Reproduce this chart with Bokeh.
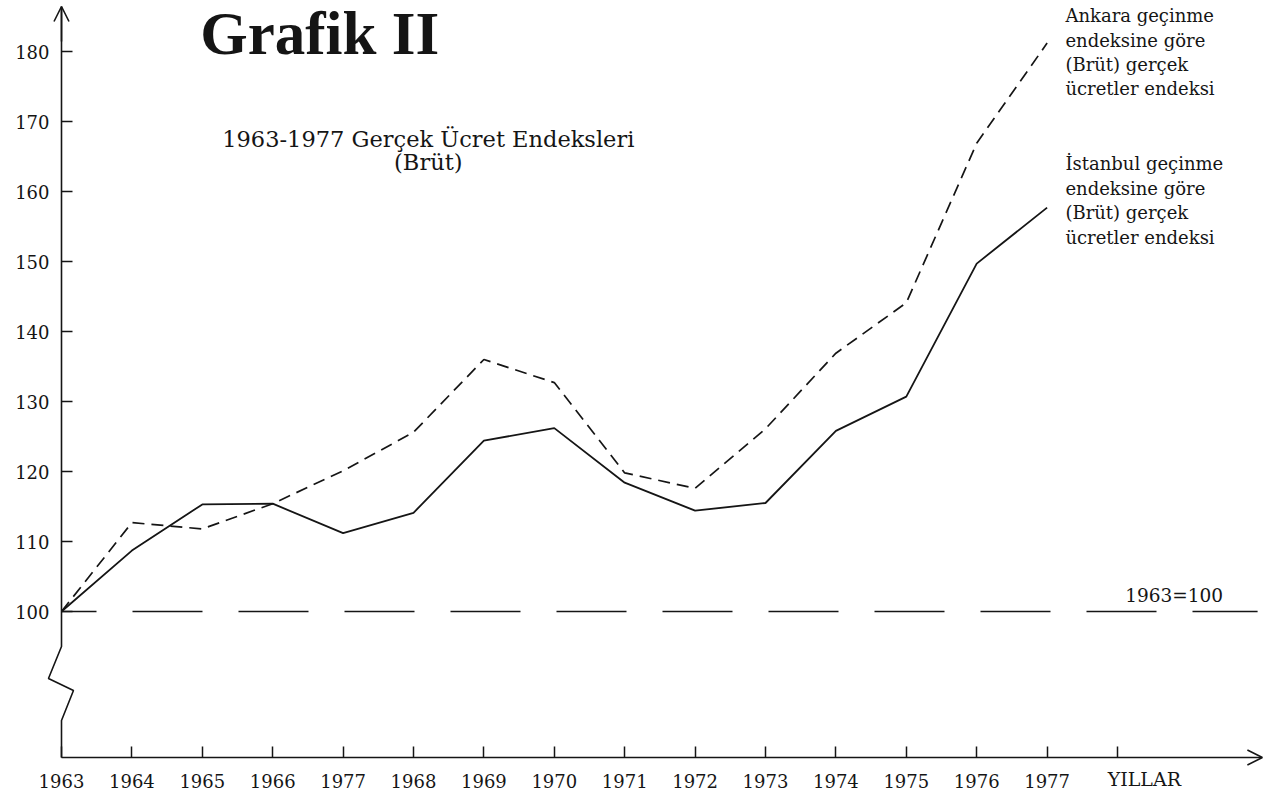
from bokeh.plotting import figure
from bokeh.models import FixedTicker, Label, Arrow, OpenHead, Range1d
from bokeh.embed import file_html
from bokeh.resources import INLINE

# ---- data -------------------------------------------------------------
years = [1963, 1964, 1965, 1966, 1967, 1968, 1969, 1970,
         1971, 1972, 1973, 1974, 1975, 1976, 1977]
istanbul = [100.0, 108.7, 115.3, 115.4, 111.2, 114.1, 124.4, 126.2,
            118.4, 114.4, 115.5, 125.8, 130.7, 149.7, 157.7]
ankara = [100.0, 112.7, 111.8, 115.4, 120.1, 125.6, 136.0, 132.7,
          119.8, 117.6, 126.1, 136.9, 144.1, 166.9, 181.2]
x_ticks = [1963, 1964, 1965, 1966, 1967, 1968, 1969, 1970,
           1971, 1972, 1973, 1974, 1975, 1976, 1977, 1978]
x_tick_labels = ["1963", "1964", "1965", "1966", "1977", "1968", "1969", "1970",
                 "1971", "1972", "1973", "1974", "1975", "1976", "1977", ""]
y_ticks = [100, 110, 120, 130, 140, 150, 160, 170, 180]
base_value = 100

title_text = "Grafik II"
subtitle_lines = ["1963-1977 Gerçek Ücret Endeksleri", "(Brüt)"]
ankara_lines = ["Ankara geçinme", "endeksine göre", "(Brüt) gerçek", "ücretler endeksi"]
istanbul_lines = ["İstanbul geçinme", "endeksine göre", "(Brüt) gerçek", "ücretler endeksi"]
base_text = "1963=100"
x_axis_name = "YILLAR"

# ---- layout (frame covers the whole canvas; axes sit at fixed locations) ----
W, H = 1264, 795
PX_PER_YEAR, PX_PER_UNIT = 70.4, 7.0
AX_X, AX_Y = 61, 611           # canvas pixel of (1963, 100)
X_START = years[0] - AX_X / PX_PER_YEAR
X_END = years[0] + (W - AX_X) / PX_PER_YEAR
Y_TOP = base_value + AX_Y / PX_PER_UNIT
Y_BOT = base_value - (H - AX_Y) / PX_PER_UNIT
X_AXIS_Y = base_value - (757 - AX_Y) / PX_PER_UNIT
Y_AXIS_TOP = base_value + (AX_Y - 6) / PX_PER_UNIT
INK = "#151515"
SERIF = "DejaVu Serif"

p = figure(width=W, height=H, x_range=Range1d(X_START, X_END), y_range=Range1d(Y_BOT, Y_TOP),
           output_backend="svg", toolbar_location=None,
           min_border_left=0, min_border_right=0, min_border_top=0, min_border_bottom=0)
p.xgrid.visible = False
p.ygrid.visible = False
p.outline_line_color = None
p.background_fill_color = "white"
p.border_fill_color = "white"

# y axis
ya = p.yaxis[0]
ya.fixed_location = years[0]
ya.ticker = FixedTicker(ticks=y_ticks)
ya.axis_line_color = None
ya.major_tick_in = 11
ya.major_tick_out = 0
ya.major_tick_line_color = INK
ya.major_tick_line_width = 1.5
ya.minor_tick_line_color = None
ya.major_label_standoff = 12
ya.major_label_text_font = SERIF
ya.major_label_text_font_size = "18px"
ya.major_label_text_color = INK

# x axis
xa = p.xaxis[0]
xa.fixed_location = X_AXIS_Y
xa.ticker = FixedTicker(ticks=x_ticks)
xa.major_label_overrides = {t: lab for t, lab in zip(x_ticks, x_tick_labels)}
xa.axis_line_color = None
xa.major_tick_in = 11
xa.major_tick_out = 0
xa.major_tick_line_color = INK
xa.major_tick_line_width = 1.5
xa.minor_tick_line_color = None
xa.major_label_standoff = 16
xa.major_label_text_font = SERIF
xa.major_label_text_font_size = "18px"
xa.major_label_text_color = INK

# axis lines with arrow heads (y axis broken below 100)
p.add_layout(Arrow(end=OpenHead(size=15, line_width=1.6, line_color=INK),
                   x_start=years[0], y_start=X_AXIS_Y, x_end=X_END - 0.03, y_end=X_AXIS_Y,
                   line_width=1.6, line_color=INK))
brk_x = [years[0], years[0], years[0] - 0.185, years[0] + 0.17, years[0], years[0]]
brk_y = [Y_AXIS_TOP, 95.0, 90.43, 88.71, 84.43, X_AXIS_Y]
p.line(brk_x, brk_y, line_color=INK, line_width=1.6)
p.add_layout(Arrow(end=OpenHead(size=15, line_width=1.6, line_color=INK),
                   x_start=years[0], y_start=Y_AXIS_TOP - 5, x_end=years[0], y_end=Y_AXIS_TOP,
                   line_width=1.6, line_color=INK))

# 1963 = 100 reference line
p.line([years[0], 1979.99], [base_value, base_value], line_color=INK,
       line_width=1.5, line_dash="70 36", line_dash_offset=35)

# series
p.line(years, istanbul, line_color=INK, line_width=1.8)
p.line(years, ankara, line_color=INK, line_width=1.7, line_dash="12 7")

# texts
p.add_layout(Label(x=1964.97, y=182.57, text=title_text, text_font="Liberation Serif",
                   text_font_style="bold", text_font_size="61px", text_color=INK,
                   text_baseline="middle", text_align="left"))
for txt, yy in zip(subtitle_lines, [167.43, 164.2]):
    p.add_layout(Label(x=1968.21, y=yy, text=txt, text_font=SERIF, text_font_size="22.5px",
                       text_color=INK, text_align="center", text_baseline="middle"))
for txt, yy in zip(ankara_lines, [185.14, 181.57, 178.14, 174.71]):
    p.add_layout(Label(x=1977.26, y=yy, text=txt, text_font=SERIF, text_font_size="18px",
                       text_color=INK, text_align="left", text_baseline="middle"))
for txt, yy in zip(istanbul_lines, [164.0, 160.43, 157.0, 153.43]):
    p.add_layout(Label(x=1977.26, y=yy, text=txt, text_font=SERIF, text_font_size="18px",
                       text_color=INK, text_align="left", text_baseline="middle"))
p.add_layout(Label(x=1978.11, y=102.29, text=base_text, text_font=SERIF, text_font_size="18.5px",
                   text_color=INK, text_align="left", text_baseline="middle"))
p.add_layout(Label(x=1977.86, y=76.1, text=x_axis_name, text_font=SERIF, text_font_size="19px",
                   text_color=INK, text_align="left", text_baseline="middle"))

open("out.html", "w").write(file_html(p, INLINE))
